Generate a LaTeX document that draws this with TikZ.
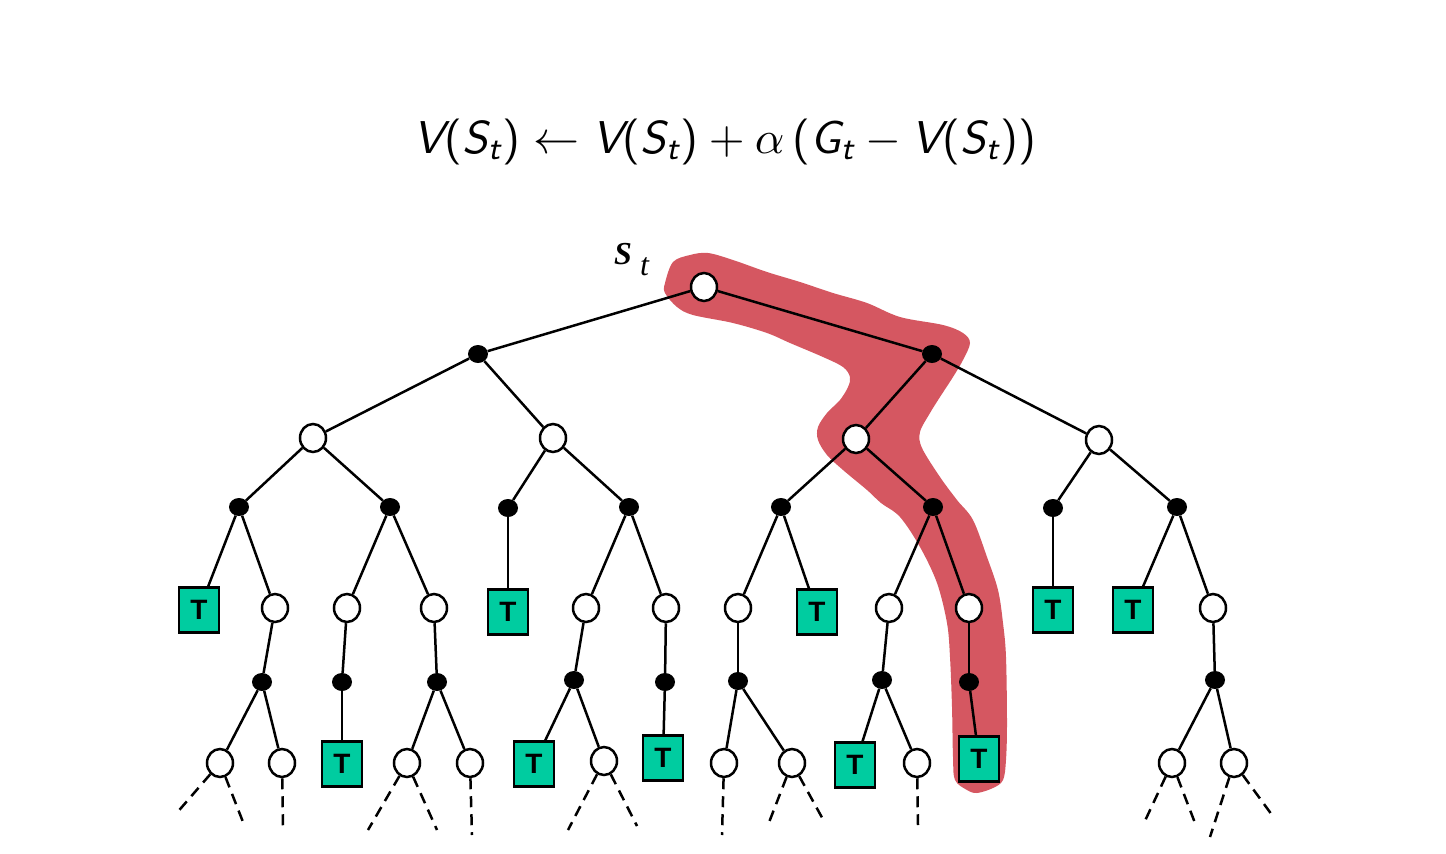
\documentclass[tikz,border=0pt]{standalone}
\usepackage{amsmath}
\usepackage{fontspec}
\newfontfamily\timesfont{Liberation Serif}
\newfontfamily\arialfont{Liberation Sans}
\usetikzlibrary{shapes.geometric}
\definecolor{hl}{RGB}{213,87,97}
\definecolor{termc}{RGB}{0,204,160}
\newcommand{\msv}[1]{\textsf{\itshape #1}}
\begin{document}
\begin{tikzpicture}[x=1pt,y=-1pt,
  st/.style={ellipse,draw,line width=2.5pt,fill=white,minimum width=26pt,minimum height=28pt,inner sep=0pt},
  act/.style={ellipse,fill=black,minimum width=20pt,minimum height=18pt,inner sep=0pt},
  termbox/.style={rectangle,draw,line width=2.3pt,fill=termc,minimum width=40pt,minimum height=45pt,inner sep=0pt,font=\arialfont\bfseries\fontsize{28}{28}\selectfont},
  edge/.style={line width=2.5pt},
  dashedge/.style={line width=2.5pt,dash pattern=on 11pt off 7pt}
]
\useasboundingbox (0,0) rectangle (1446,854);

% highlight band
\fill[hl] plot[smooth cycle, tension=0.55] coordinates {
 (665,283) (673,262) (690,255) (708,253) (733,260) (767,272) (800,282) (833,293)
 (867,303) (900,317) (943,325) (963,333) (970,343) (963,360) (953,377) (940,397)
 (930,413) (920,432) (922,448) (940,477) (957,500) (973,520) (987,557) (998,590)
 (1003,623) (1006,657) (1007,723) (1006,760) (1003,780) (993,788) (977,793) (967,790)
 (955,780) (953,757) (952,707) (950,657) (947,623) (937,583) (920,547) (900,517)
 (881,503) (867,490) (843,470) (827,455) (818,440) (818,427) (827,413) (840,400)
 (848,387) (850,377) (843,367) (823,357) (790,343) (767,333) (733,323) (693,315)
 (677,307) (665,293)};

% formula and label
\node[anchor=base,inner sep=0pt,scale=4.6] (eq) at (725,153) {%
 $\msv{V}\textsf{(}\msv{S}_{\msv{t}}\textsf{)} \leftarrow \msv{V}\textsf{(}\msv{S}_{\msv{t}}\textsf{)} + \alpha\,\textsf{(}\msv{G}_{\msv{t}} - \msv{V}\textsf{(}\msv{S}_{\msv{t}}\textsf{))}$};
\node[anchor=base west,inner sep=0pt] (lab) at (614,264) {\timesfont\itshape{\bfseries\fontsize{32}{32}\selectfont S}\hspace{8pt}{\fontsize{32}{32}\selectfont\raisebox{-11pt}{t}}};

% nodes
\node[st] (r) at (704,287) {};
\node[act] (a1) at (478,354) {};
\node[act] (a2) at (932,354) {};
\node[st] (s1) at (313,438) {};
\node[st] (s2) at (553,438) {};
\node[st] (s3) at (856,439) {};
\node[st] (s4) at (1099,440) {};
\node[act] (b1) at (239,507) {};
\node[act] (b2) at (390,507) {};
\node[act] (b3) at (508,508) {};
\node[act] (b4) at (629,507) {};
\node[act] (b5) at (781,507) {};
\node[act] (b6) at (933,507) {};
\node[act] (b7) at (1053,508) {};
\node[act] (b8) at (1177,507) {};
\node[termbox] (t1) at (199,610) {T};
\node[st] (c1) at (275,608) {};
\node[st] (c2) at (347,608) {};
\node[st] (c3) at (434,608) {};
\node[termbox] (t2) at (508,612) {T};
\node[st] (c4) at (586,608) {};
\node[st] (c5) at (666,608) {};
\node[st] (c6) at (738,608) {};
\node[termbox] (t3) at (817,612) {T};
\node[st] (c7) at (889,608) {};
\node[st] (c8) at (969,608) {};
\node[termbox] (t4) at (1053,610) {T};
\node[termbox] (t5) at (1133,610) {T};
\node[st] (c9) at (1213,608) {};
\node[act] (d1) at (262,682) {};
\node[act] (d2) at (342,682) {};
\node[act] (d3) at (437,682) {};
\node[act] (d4) at (574,680) {};
\node[act] (d5) at (665,682) {};
\node[act] (d6) at (738,681) {};
\node[act] (d7) at (882,680) {};
\node[act] (d8) at (969,682) {};
\node[act] (d9) at (1215,680) {};
\node[st] (e1) at (220,763) {};
\node[st] (e2) at (282,763) {};
\node[termbox] (t6) at (342,764) {T};
\node[st] (e3) at (407,763) {};
\node[st] (e4) at (470,763) {};
\node[termbox] (t7) at (534,764) {T};
\node[st] (e5) at (604,761) {};
\node[termbox] (t8) at (663,758) {T};
\node[st] (e6) at (724,763) {};
\node[st] (e7) at (792,763) {};
\node[termbox] (t9) at (855,765) {T};
\node[st] (e8) at (917,763) {};
\node[termbox] (t10) at (979,759) {T};
\node[st] (e9) at (1172,763) {};
\node[st] (e10) at (1234,763) {};

% dashed ends
\coordinate (f1) at (175,815); \coordinate (f2) at (243,822);
\coordinate (f3) at (283,828);
\coordinate (f4) at (368,830); \coordinate (f5) at (437,830);
\coordinate (f6) at (472,835);
\coordinate (f7) at (568,830); \coordinate (f8) at (637,826);
\coordinate (f9) at (722,835);
\coordinate (f10) at (768,825); \coordinate (f11) at (825,823);
\coordinate (f12) at (918,825);
\coordinate (f13) at (1144,823); \coordinate (f14) at (1195,823);
\coordinate (f15) at (1210,837); \coordinate (f16) at (1272,815);

% edges
\draw[edge] (r) -- (a1);
\draw[edge] (r) -- (a2);
\draw[edge] (a1) -- (s1);
\draw[edge] (a1) -- (s2);
\draw[edge] (a2) -- (s3);
\draw[edge] (a2) -- (s4);
\draw[edge] (s1) -- (b1);
\draw[edge] (s1) -- (b2);
\draw[edge] (s2) -- (b3);
\draw[edge] (s2) -- (b4);
\draw[edge] (s3) -- (b5);
\draw[edge] (s3) -- (b6);
\draw[edge] (s4) -- (b7);
\draw[edge] (s4) -- (b8);
\draw[edge] (b1) -- (t1);
\draw[edge] (b1) -- (c1);
\draw[edge] (b2) -- (c2);
\draw[edge] (b2) -- (c3);
\draw[edge] (b3) -- (t2);
\draw[edge] (b4) -- (c4);
\draw[edge] (b4) -- (c5);
\draw[edge] (b5) -- (c6);
\draw[edge] (b5) -- (t3);
\draw[edge] (b6) -- (c7);
\draw[edge] (b6) -- (c8);
\draw[edge] (b7) -- (t4);
\draw[edge] (b8) -- (t5);
\draw[edge] (b8) -- (c9);
\draw[edge] (c1) -- (d1);
\draw[edge] (c2) -- (d2);
\draw[edge] (c3) -- (d3);
\draw[edge] (c4) -- (d4);
\draw[edge] (c5) -- (d5);
\draw[edge] (c6) -- (d6);
\draw[edge] (c7) -- (d7);
\draw[edge] (c8) -- (d8);
\draw[edge] (c9) -- (d9);
\draw[edge] (d1) -- (e1);
\draw[edge] (d1) -- (e2);
\draw[edge] (d2) -- (t6);
\draw[edge] (d3) -- (e3);
\draw[edge] (d3) -- (e4);
\draw[edge] (d4) -- (t7);
\draw[edge] (d4) -- (e5);
\draw[edge] (d5) -- (t8);
\draw[edge] (d6) -- (e6);
\draw[edge] (d6) -- (e7);
\draw[edge] (d7) -- (t9);
\draw[edge] (d7) -- (e8);
\draw[edge] (d8) -- (t10);
\draw[edge] (d9) -- (e9);
\draw[edge] (d9) -- (e10);

% dashed continuations
\draw[dashedge] (e1) -- (f1);
\draw[dashedge] (e1) -- (f2);
\draw[dashedge] (e2) -- (f3);
\draw[dashedge] (e3) -- (f4);
\draw[dashedge] (e3) -- (f5);
\draw[dashedge] (e4) -- (f6);
\draw[dashedge] (e5) -- (f7);
\draw[dashedge] (e5) -- (f8);
\draw[dashedge] (e6) -- (f9);
\draw[dashedge] (e7) -- (f10);
\draw[dashedge] (e7) -- (f11);
\draw[dashedge] (e8) -- (f12);
\draw[dashedge] (e9) -- (f13);
\draw[dashedge] (e9) -- (f14);
\draw[dashedge] (e10) -- (f15);
\draw[dashedge] (e10) -- (f16);
\end{tikzpicture}
\end{document}
